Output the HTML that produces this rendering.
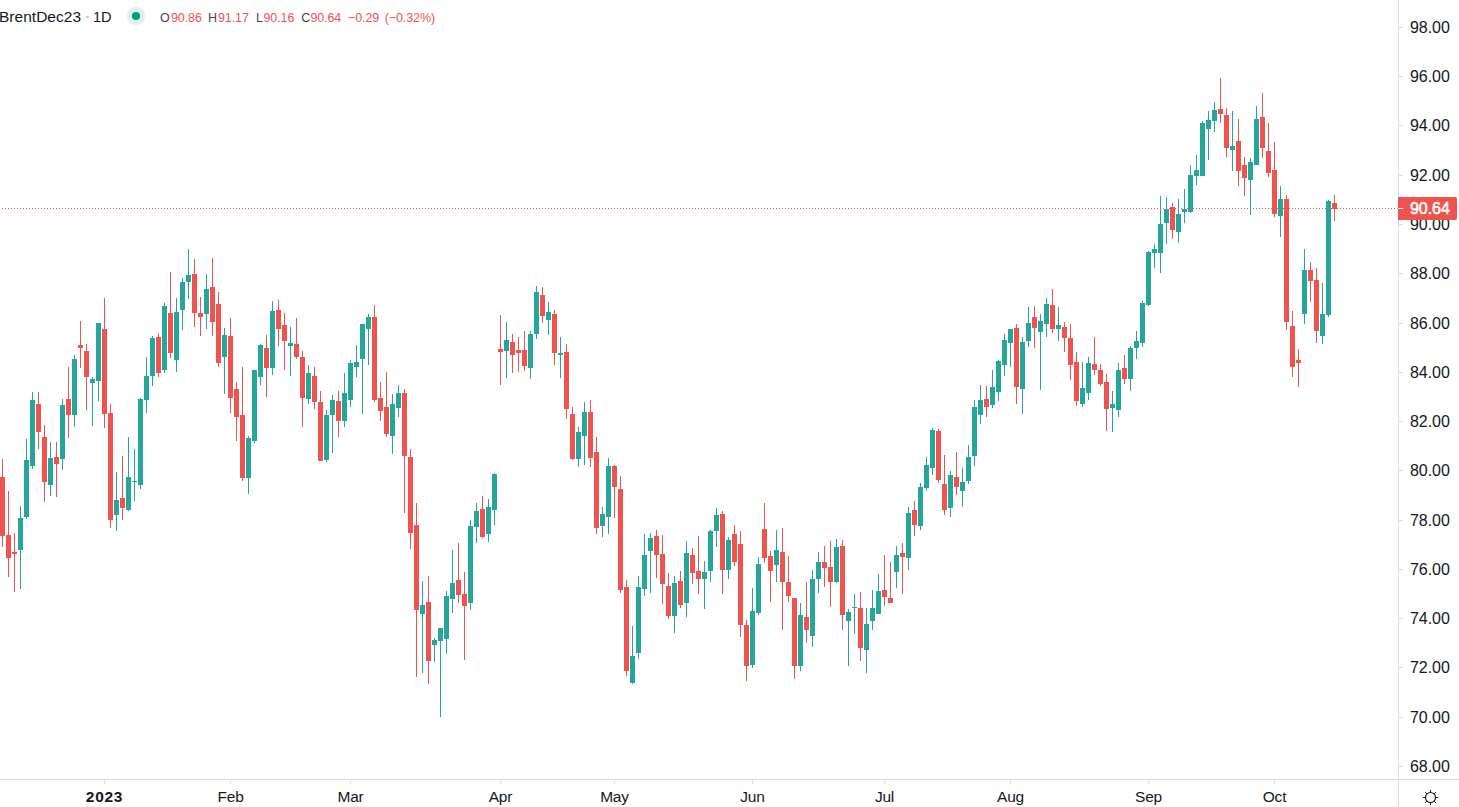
<!DOCTYPE html>
<html><head><meta charset="utf-8"><title>BrentDec23</title>
<style>
html,body{margin:0;padding:0;background:#fff;}
body{width:1459px;height:807px;position:relative;overflow:hidden;font-family:"Liberation Sans",sans-serif;color:#131722;}
svg{position:absolute;left:0;top:0;}
.yl{position:absolute;left:1410px;width:48px;height:20px;line-height:20px;font-size:16px;letter-spacing:-0.05px;white-space:nowrap;}
.xl{position:absolute;top:787px;width:81px;text-align:center;height:20px;line-height:20px;font-size:15.5px;letter-spacing:-0.2px;white-space:nowrap;}
.xl.b{font-weight:bold;font-size:15.5px;letter-spacing:0.7px;}
.hdr{position:absolute;white-space:nowrap;}
.t1{top:7px;font-size:15.5px;line-height:20px;letter-spacing:0.02px;}
.t2{top:9px;font-size:12.5px;line-height:18px;color:#ef5350;letter-spacing:-0.1px;}
.t2.gy{color:#434651;}
#plabel{position:absolute;left:1398px;top:197px;width:59px;height:23px;background:#ef5350;border-radius:0 2px 2px 0;color:#fff;font-size:16px;letter-spacing:-0.05px;line-height:23px;-webkit-text-stroke:0.55px #fff;}
#plabel span{position:absolute;left:12px;top:0;}
</style></head><body>
<svg width="1459" height="807" viewBox="0 0 1459 807" shape-rendering="crispEdges">
<path fill="#dcdee4" d="M1398 0h1v807h-1zM0 779h1459v1h-1459zM1399 766h4v1h-4zM1399 717h4v1h-4zM1399 667h4v1h-4zM1399 618h4v1h-4zM1399 569h4v1h-4zM1399 520h4v1h-4zM1399 470h4v1h-4zM1399 421h4v1h-4zM1399 372h4v1h-4zM1399 323h4v1h-4zM1399 273h4v1h-4zM1399 224h4v1h-4zM1399 175h4v1h-4zM1399 125h4v1h-4zM1399 76h4v1h-4zM1399 27h4v1h-4zM104 780h1v4h-1zM230 780h1v4h-1zM350 780h1v4h-1zM500 780h1v4h-1zM614 780h1v4h-1zM752 780h1v4h-1zM884 780h1v4h-1zM1010 780h1v4h-1zM1148 780h1v4h-1zM1274 780h1v4h-1z"/>
<path fill="#26a69a" d="M20 506h1v83h-1zM18 518h5v32h-5zM26 439h1v80h-1zM24 460h5v57h-5zM32 392h1v77h-1zM30 400h5v66h-5zM50 442h1v54h-1zM48 458h5v27h-5zM62 399h1v71h-1zM60 405h5v54h-5zM74 355h1v72h-1zM72 359h5v56h-5zM92 377h1v49h-1zM90 379h5v4h-5zM98 323h1v78h-1zM96 323h5v58h-5zM116 472h1v59h-1zM114 500h5v15h-5zM128 437h1v74h-1zM126 477h5v33h-5zM134 449h1v52h-1zM132 481h5v1h-5zM140 398h1v91h-1zM138 399h5v86h-5zM146 357h1v56h-1zM144 376h5v24h-5zM152 336h1v50h-1zM150 338h5v38h-5zM164 303h1v70h-1zM162 306h5v64h-5zM176 298h1v74h-1zM174 312h5v48h-5zM182 278h1v52h-1zM180 282h5v28h-5zM188 249h1v50h-1zM186 275h5v7h-5zM206 274h1v55h-1zM204 289h5v25h-5zM224 328h1v66h-1zM222 335h5v22h-5zM248 436h1v58h-1zM246 438h5v40h-5zM254 370h1v73h-1zM252 370h5v71h-5zM260 344h1v41h-1zM258 345h5v32h-5zM272 301h1v74h-1zM270 311h5v57h-5zM290 327h1v49h-1zM288 343h5v3h-5zM308 365h1v39h-1zM306 373h5v26h-5zM326 410h1v52h-1zM324 415h5v45h-5zM332 395h1v58h-1zM330 400h5v15h-5zM344 373h1v54h-1zM342 393h5v28h-5zM350 360h1v47h-1zM348 363h5v37h-5zM356 345h1v32h-1zM354 362h5v5h-5zM362 324h1v90h-1zM360 324h5v35h-5zM368 314h1v51h-1zM366 317h5v12h-5zM392 394h1v60h-1zM390 404h5v32h-5zM398 385h1v32h-1zM396 393h5v15h-5zM422 581h1v92h-1zM420 605h5v9h-5zM434 638h1v24h-1zM432 640h5v5h-5zM440 628h1v89h-1zM438 628h5v13h-5zM446 591h1v63h-1zM444 596h5v43h-5zM452 550h1v63h-1zM450 583h5v16h-5zM470 520h1v90h-1zM468 526h5v77h-5zM476 503h1v40h-1zM474 511h5v16h-5zM488 499h1v43h-1zM486 507h5v27h-5zM494 473h1v52h-1zM492 474h5v36h-5zM506 322h1v56h-1zM504 340h5v11h-5zM530 331h1v48h-1zM528 334h5v34h-5zM536 286h1v53h-1zM534 292h5v42h-5zM548 302h1v33h-1zM546 312h5v8h-5zM560 337h1v41h-1zM558 353h5v2h-5zM578 427h1v40h-1zM576 432h5v27h-5zM584 402h1v63h-1zM582 412h5v24h-5zM602 507h1v30h-1zM600 514h5v12h-5zM608 458h1v76h-1zM606 466h5v51h-5zM632 626h1v58h-1zM630 656h5v27h-5zM638 576h1v83h-1zM636 587h5v66h-5zM644 534h1v62h-1zM642 555h5v34h-5zM650 533h1v60h-1zM648 538h5v13h-5zM674 576h1v57h-1zM672 583h5v33h-5zM686 541h1v76h-1zM684 553h5v50h-5zM704 561h1v48h-1zM702 572h5v7h-5zM710 530h1v52h-1zM708 531h5v40h-5zM716 508h1v39h-1zM714 515h5v16h-5zM728 537h1v42h-1zM726 540h5v30h-5zM752 588h1v80h-1zM750 611h5v54h-5zM758 557h1v58h-1zM756 564h5v49h-5zM776 530h1v52h-1zM774 550h5v15h-5zM800 603h1v68h-1zM798 615h5v51h-5zM812 570h1v77h-1zM810 579h5v57h-5zM818 552h1v41h-1zM816 562h5v17h-5zM836 539h1v44h-1zM834 547h5v35h-5zM848 609h1v57h-1zM846 612h5v9h-5zM854 594h1v40h-1zM852 607h5v1h-5zM866 608h1v65h-1zM864 624h5v26h-5zM872 590h1v40h-1zM870 608h5v13h-5zM878 574h1v40h-1zM876 591h5v23h-5zM896 546h1v42h-1zM894 555h5v17h-5zM908 507h1v63h-1zM906 513h5v45h-5zM920 483h1v47h-1zM918 487h5v39h-5zM926 457h1v34h-1zM924 465h5v23h-5zM932 428h1v47h-1zM930 430h5v38h-5zM950 471h1v46h-1zM948 475h5v33h-5zM962 468h1v39h-1zM960 482h5v9h-5zM968 445h1v39h-1zM966 457h5v24h-5zM974 400h1v66h-1zM972 407h5v49h-5zM980 385h1v39h-1zM978 400h5v15h-5zM992 370h1v38h-1zM990 387h5v18h-5zM998 360h1v41h-1zM996 361h5v31h-5zM1004 334h1v42h-1zM1002 340h5v25h-5zM1010 329h1v38h-1zM1008 329h5v14h-5zM1022 337h1v77h-1zM1020 342h5v47h-5zM1028 307h1v40h-1zM1026 323h5v18h-5zM1040 314h1v76h-1zM1038 321h5v11h-5zM1046 298h1v39h-1zM1044 304h5v20h-5zM1058 307h1v34h-1zM1056 325h5v4h-5zM1082 362h1v45h-1zM1080 388h5v16h-5zM1088 357h1v43h-1zM1086 363h5v30h-5zM1112 391h1v41h-1zM1110 404h5v4h-5zM1118 363h1v54h-1zM1116 370h5v40h-5zM1130 346h1v45h-1zM1128 348h5v31h-5zM1136 331h1v28h-1zM1134 341h5v7h-5zM1142 301h1v46h-1zM1140 303h5v40h-5zM1148 251h1v55h-1zM1146 252h5v53h-5zM1154 244h1v24h-1zM1152 249h5v4h-5zM1160 196h1v77h-1zM1158 224h5v29h-5zM1166 197h1v47h-1zM1164 209h5v14h-5zM1178 199h1v44h-1zM1176 214h5v18h-5zM1184 189h1v34h-1zM1182 209h5v3h-5zM1190 165h1v48h-1zM1188 175h5v37h-5zM1196 155h1v30h-1zM1194 170h5v6h-5zM1202 121h1v55h-1zM1200 123h5v53h-5zM1208 111h1v49h-1zM1206 120h5v9h-5zM1214 102h1v30h-1zM1212 110h5v11h-5zM1232 111h1v60h-1zM1230 146h5v4h-5zM1250 158h1v57h-1zM1248 162h5v18h-5zM1256 106h1v59h-1zM1254 119h5v46h-5zM1280 186h1v51h-1zM1278 199h5v17h-5zM1304 249h1v75h-1zM1302 270h5v44h-5zM1322 283h1v61h-1zM1320 314h5v22h-5zM1328 200h1v117h-1zM1326 201h5v114h-5z"/>
<path fill="#ef5350" d="M2 459h1v88h-1zM0 477h5v59h-5zM8 491h1v86h-1zM6 535h5v23h-5zM14 533h1v59h-1zM12 552h5v2h-5zM38 392h1v57h-1zM36 404h5v28h-5zM44 425h1v77h-1zM42 437h5v45h-5zM56 442h1v55h-1zM54 457h5v7h-5zM68 367h1v71h-1zM66 399h5v16h-5zM80 321h1v47h-1zM78 345h5v3h-5zM86 344h1v66h-1zM84 351h5v26h-5zM104 298h1v130h-1zM102 329h5v85h-5zM110 404h1v124h-1zM108 413h5v107h-5zM122 456h1v64h-1zM120 498h5v10h-5zM158 333h1v44h-1zM156 337h5v36h-5zM170 272h1v86h-1zM168 313h5v40h-5zM194 259h1v68h-1zM192 274h5v39h-5zM200 297h1v39h-1zM198 313h5v4h-5zM212 258h1v78h-1zM210 287h5v35h-5zM218 292h1v75h-1zM216 304h5v59h-5zM230 318h1v95h-1zM228 336h5v62h-5zM236 382h1v59h-1zM234 389h5v28h-5zM242 367h1v114h-1zM240 415h5v63h-5zM266 335h1v62h-1zM264 348h5v20h-5zM278 300h1v46h-1zM276 310h5v19h-5zM284 313h1v57h-1zM282 325h5v16h-5zM296 318h1v41h-1zM294 344h5v13h-5zM302 351h1v76h-1zM300 357h5v41h-5zM314 367h1v42h-1zM312 376h5v26h-5zM320 391h1v70h-1zM318 402h5v59h-5zM338 391h1v46h-1zM336 401h5v20h-5zM374 305h1v97h-1zM372 317h5v83h-5zM380 382h1v39h-1zM378 398h5v13h-5zM386 372h1v65h-1zM384 407h5v27h-5zM404 389h1v124h-1zM402 393h5v63h-5zM410 449h1v100h-1zM408 457h5v76h-5zM416 503h1v174h-1zM414 525h5v85h-5zM428 576h1v108h-1zM426 602h5v59h-5zM458 543h1v60h-1zM456 580h5v15h-5zM464 572h1v88h-1zM462 594h5v12h-5zM482 496h1v42h-1zM480 509h5v28h-5zM500 315h1v70h-1zM498 349h5v3h-5zM512 334h1v39h-1zM510 342h5v13h-5zM518 337h1v35h-1zM516 350h5v3h-5zM524 331h1v40h-1zM522 350h5v16h-5zM542 287h1v36h-1zM540 295h5v21h-5zM554 310h1v55h-1zM552 314h5v39h-5zM566 344h1v75h-1zM564 352h5v57h-5zM572 407h1v53h-1zM570 414h5v45h-5zM590 400h1v67h-1zM588 412h5v46h-5zM596 437h1v97h-1zM594 452h5v76h-5zM614 465h1v53h-1zM612 466h5v21h-5zM620 476h1v117h-1zM618 489h5v101h-5zM626 580h1v96h-1zM624 587h5v84h-5zM656 530h1v48h-1zM654 536h5v19h-5zM662 535h1v69h-1zM660 554h5v30h-5zM668 573h1v46h-1zM666 586h5v30h-5zM680 571h1v37h-1zM678 581h5v24h-5zM692 548h1v36h-1zM690 555h5v18h-5zM698 536h1v58h-1zM696 571h5v8h-5zM722 511h1v83h-1zM720 514h5v56h-5zM734 525h1v41h-1zM732 534h5v28h-5zM740 531h1v106h-1zM738 544h5v81h-5zM746 620h1v61h-1zM744 625h5v41h-5zM764 503h1v60h-1zM762 529h5v29h-5zM770 551h1v51h-1zM768 556h5v15h-5zM782 528h1v102h-1zM780 552h5v30h-5zM788 556h1v46h-1zM786 582h5v14h-5zM794 598h1v81h-1zM792 598h5v68h-5zM806 582h1v61h-1zM804 617h5v13h-5zM824 546h1v41h-1zM822 562h5v6h-5zM830 541h1v66h-1zM828 567h5v15h-5zM842 540h1v90h-1zM840 546h5v69h-5zM860 592h1v69h-1zM858 608h5v40h-5zM884 555h1v51h-1zM882 590h5v7h-5zM890 562h1v41h-1zM888 598h5v5h-5zM902 543h1v51h-1zM900 553h5v4h-5zM914 501h1v35h-1zM912 510h5v15h-5zM938 429h1v54h-1zM936 431h5v49h-5zM944 455h1v60h-1zM942 484h5v26h-5zM956 452h1v43h-1zM954 477h5v10h-5zM986 386h1v31h-1zM984 399h5v8h-5zM1016 324h1v80h-1zM1014 328h5v59h-5zM1034 306h1v42h-1zM1032 317h5v11h-5zM1052 289h1v44h-1zM1050 305h5v24h-5zM1064 322h1v30h-1zM1062 327h5v11h-5zM1070 324h1v56h-1zM1068 338h5v27h-5zM1076 352h1v54h-1zM1074 362h5v39h-5zM1094 337h1v38h-1zM1092 364h5v6h-5zM1100 364h1v22h-1zM1098 370h5v14h-5zM1106 374h1v57h-1zM1104 382h5v27h-5zM1124 355h1v29h-1zM1122 368h5v11h-5zM1172 203h1v36h-1zM1170 207h5v23h-5zM1220 78h1v45h-1zM1218 109h5v5h-5zM1226 108h1v49h-1zM1224 115h5v33h-5zM1238 119h1v67h-1zM1236 141h5v30h-5zM1244 157h1v39h-1zM1242 165h5v13h-5zM1262 93h1v65h-1zM1260 117h5v31h-5zM1268 123h1v54h-1zM1266 151h5v22h-5zM1274 142h1v75h-1zM1272 170h5v44h-5zM1286 195h1v135h-1zM1284 199h5v123h-5zM1292 311h1v66h-1zM1290 326h5v41h-5zM1298 349h1v38h-1zM1296 360h5v3h-5zM1310 262h1v40h-1zM1308 270h5v11h-5zM1316 268h1v75h-1zM1314 280h5v51h-5zM1334 195h1v26h-1zM1332 203h5v6h-5z"/>
<path fill="#ef5350" d="M2 208h1v1h-1zM5 208h1v1h-1zM8 208h1v1h-1zM11 208h1v1h-1zM14 208h1v1h-1zM17 208h1v1h-1zM20 208h1v1h-1zM23 208h1v1h-1zM26 208h1v1h-1zM29 208h1v1h-1zM32 208h1v1h-1zM35 208h1v1h-1zM38 208h1v1h-1zM41 208h1v1h-1zM44 208h1v1h-1zM47 208h1v1h-1zM50 208h1v1h-1zM53 208h1v1h-1zM56 208h1v1h-1zM59 208h1v1h-1zM62 208h1v1h-1zM65 208h1v1h-1zM68 208h1v1h-1zM71 208h1v1h-1zM74 208h1v1h-1zM77 208h1v1h-1zM80 208h1v1h-1zM83 208h1v1h-1zM86 208h1v1h-1zM89 208h1v1h-1zM92 208h1v1h-1zM95 208h1v1h-1zM98 208h1v1h-1zM101 208h1v1h-1zM104 208h1v1h-1zM107 208h1v1h-1zM110 208h1v1h-1zM113 208h1v1h-1zM116 208h1v1h-1zM119 208h1v1h-1zM122 208h1v1h-1zM125 208h1v1h-1zM128 208h1v1h-1zM131 208h1v1h-1zM134 208h1v1h-1zM137 208h1v1h-1zM140 208h1v1h-1zM143 208h1v1h-1zM146 208h1v1h-1zM149 208h1v1h-1zM152 208h1v1h-1zM155 208h1v1h-1zM158 208h1v1h-1zM161 208h1v1h-1zM164 208h1v1h-1zM167 208h1v1h-1zM170 208h1v1h-1zM173 208h1v1h-1zM176 208h1v1h-1zM179 208h1v1h-1zM182 208h1v1h-1zM185 208h1v1h-1zM188 208h1v1h-1zM191 208h1v1h-1zM194 208h1v1h-1zM197 208h1v1h-1zM200 208h1v1h-1zM203 208h1v1h-1zM206 208h1v1h-1zM209 208h1v1h-1zM212 208h1v1h-1zM215 208h1v1h-1zM218 208h1v1h-1zM221 208h1v1h-1zM224 208h1v1h-1zM227 208h1v1h-1zM230 208h1v1h-1zM233 208h1v1h-1zM236 208h1v1h-1zM239 208h1v1h-1zM242 208h1v1h-1zM245 208h1v1h-1zM248 208h1v1h-1zM251 208h1v1h-1zM254 208h1v1h-1zM257 208h1v1h-1zM260 208h1v1h-1zM263 208h1v1h-1zM266 208h1v1h-1zM269 208h1v1h-1zM272 208h1v1h-1zM275 208h1v1h-1zM278 208h1v1h-1zM281 208h1v1h-1zM284 208h1v1h-1zM287 208h1v1h-1zM290 208h1v1h-1zM293 208h1v1h-1zM296 208h1v1h-1zM299 208h1v1h-1zM302 208h1v1h-1zM305 208h1v1h-1zM308 208h1v1h-1zM311 208h1v1h-1zM314 208h1v1h-1zM317 208h1v1h-1zM320 208h1v1h-1zM323 208h1v1h-1zM326 208h1v1h-1zM329 208h1v1h-1zM332 208h1v1h-1zM335 208h1v1h-1zM338 208h1v1h-1zM341 208h1v1h-1zM344 208h1v1h-1zM347 208h1v1h-1zM350 208h1v1h-1zM353 208h1v1h-1zM356 208h1v1h-1zM359 208h1v1h-1zM362 208h1v1h-1zM365 208h1v1h-1zM368 208h1v1h-1zM371 208h1v1h-1zM374 208h1v1h-1zM377 208h1v1h-1zM380 208h1v1h-1zM383 208h1v1h-1zM386 208h1v1h-1zM389 208h1v1h-1zM392 208h1v1h-1zM395 208h1v1h-1zM398 208h1v1h-1zM401 208h1v1h-1zM404 208h1v1h-1zM407 208h1v1h-1zM410 208h1v1h-1zM413 208h1v1h-1zM416 208h1v1h-1zM419 208h1v1h-1zM422 208h1v1h-1zM425 208h1v1h-1zM428 208h1v1h-1zM431 208h1v1h-1zM434 208h1v1h-1zM437 208h1v1h-1zM440 208h1v1h-1zM443 208h1v1h-1zM446 208h1v1h-1zM449 208h1v1h-1zM452 208h1v1h-1zM455 208h1v1h-1zM458 208h1v1h-1zM461 208h1v1h-1zM464 208h1v1h-1zM467 208h1v1h-1zM470 208h1v1h-1zM473 208h1v1h-1zM476 208h1v1h-1zM479 208h1v1h-1zM482 208h1v1h-1zM485 208h1v1h-1zM488 208h1v1h-1zM491 208h1v1h-1zM494 208h1v1h-1zM497 208h1v1h-1zM500 208h1v1h-1zM503 208h1v1h-1zM506 208h1v1h-1zM509 208h1v1h-1zM512 208h1v1h-1zM515 208h1v1h-1zM518 208h1v1h-1zM521 208h1v1h-1zM524 208h1v1h-1zM527 208h1v1h-1zM530 208h1v1h-1zM533 208h1v1h-1zM536 208h1v1h-1zM539 208h1v1h-1zM542 208h1v1h-1zM545 208h1v1h-1zM548 208h1v1h-1zM551 208h1v1h-1zM554 208h1v1h-1zM557 208h1v1h-1zM560 208h1v1h-1zM563 208h1v1h-1zM566 208h1v1h-1zM569 208h1v1h-1zM572 208h1v1h-1zM575 208h1v1h-1zM578 208h1v1h-1zM581 208h1v1h-1zM584 208h1v1h-1zM587 208h1v1h-1zM590 208h1v1h-1zM593 208h1v1h-1zM596 208h1v1h-1zM599 208h1v1h-1zM602 208h1v1h-1zM605 208h1v1h-1zM608 208h1v1h-1zM611 208h1v1h-1zM614 208h1v1h-1zM617 208h1v1h-1zM620 208h1v1h-1zM623 208h1v1h-1zM626 208h1v1h-1zM629 208h1v1h-1zM632 208h1v1h-1zM635 208h1v1h-1zM638 208h1v1h-1zM641 208h1v1h-1zM644 208h1v1h-1zM647 208h1v1h-1zM650 208h1v1h-1zM653 208h1v1h-1zM656 208h1v1h-1zM659 208h1v1h-1zM662 208h1v1h-1zM665 208h1v1h-1zM668 208h1v1h-1zM671 208h1v1h-1zM674 208h1v1h-1zM677 208h1v1h-1zM680 208h1v1h-1zM683 208h1v1h-1zM686 208h1v1h-1zM689 208h1v1h-1zM692 208h1v1h-1zM695 208h1v1h-1zM698 208h1v1h-1zM701 208h1v1h-1zM704 208h1v1h-1zM707 208h1v1h-1zM710 208h1v1h-1zM713 208h1v1h-1zM716 208h1v1h-1zM719 208h1v1h-1zM722 208h1v1h-1zM725 208h1v1h-1zM728 208h1v1h-1zM731 208h1v1h-1zM734 208h1v1h-1zM737 208h1v1h-1zM740 208h1v1h-1zM743 208h1v1h-1zM746 208h1v1h-1zM749 208h1v1h-1zM752 208h1v1h-1zM755 208h1v1h-1zM758 208h1v1h-1zM761 208h1v1h-1zM764 208h1v1h-1zM767 208h1v1h-1zM770 208h1v1h-1zM773 208h1v1h-1zM776 208h1v1h-1zM779 208h1v1h-1zM782 208h1v1h-1zM785 208h1v1h-1zM788 208h1v1h-1zM791 208h1v1h-1zM794 208h1v1h-1zM797 208h1v1h-1zM800 208h1v1h-1zM803 208h1v1h-1zM806 208h1v1h-1zM809 208h1v1h-1zM812 208h1v1h-1zM815 208h1v1h-1zM818 208h1v1h-1zM821 208h1v1h-1zM824 208h1v1h-1zM827 208h1v1h-1zM830 208h1v1h-1zM833 208h1v1h-1zM836 208h1v1h-1zM839 208h1v1h-1zM842 208h1v1h-1zM845 208h1v1h-1zM848 208h1v1h-1zM851 208h1v1h-1zM854 208h1v1h-1zM857 208h1v1h-1zM860 208h1v1h-1zM863 208h1v1h-1zM866 208h1v1h-1zM869 208h1v1h-1zM872 208h1v1h-1zM875 208h1v1h-1zM878 208h1v1h-1zM881 208h1v1h-1zM884 208h1v1h-1zM887 208h1v1h-1zM890 208h1v1h-1zM893 208h1v1h-1zM896 208h1v1h-1zM899 208h1v1h-1zM902 208h1v1h-1zM905 208h1v1h-1zM908 208h1v1h-1zM911 208h1v1h-1zM914 208h1v1h-1zM917 208h1v1h-1zM920 208h1v1h-1zM923 208h1v1h-1zM926 208h1v1h-1zM929 208h1v1h-1zM932 208h1v1h-1zM935 208h1v1h-1zM938 208h1v1h-1zM941 208h1v1h-1zM944 208h1v1h-1zM947 208h1v1h-1zM950 208h1v1h-1zM953 208h1v1h-1zM956 208h1v1h-1zM959 208h1v1h-1zM962 208h1v1h-1zM965 208h1v1h-1zM968 208h1v1h-1zM971 208h1v1h-1zM974 208h1v1h-1zM977 208h1v1h-1zM980 208h1v1h-1zM983 208h1v1h-1zM986 208h1v1h-1zM989 208h1v1h-1zM992 208h1v1h-1zM995 208h1v1h-1zM998 208h1v1h-1zM1001 208h1v1h-1zM1004 208h1v1h-1zM1007 208h1v1h-1zM1010 208h1v1h-1zM1013 208h1v1h-1zM1016 208h1v1h-1zM1019 208h1v1h-1zM1022 208h1v1h-1zM1025 208h1v1h-1zM1028 208h1v1h-1zM1031 208h1v1h-1zM1034 208h1v1h-1zM1037 208h1v1h-1zM1040 208h1v1h-1zM1043 208h1v1h-1zM1046 208h1v1h-1zM1049 208h1v1h-1zM1052 208h1v1h-1zM1055 208h1v1h-1zM1058 208h1v1h-1zM1061 208h1v1h-1zM1064 208h1v1h-1zM1067 208h1v1h-1zM1070 208h1v1h-1zM1073 208h1v1h-1zM1076 208h1v1h-1zM1079 208h1v1h-1zM1082 208h1v1h-1zM1085 208h1v1h-1zM1088 208h1v1h-1zM1091 208h1v1h-1zM1094 208h1v1h-1zM1097 208h1v1h-1zM1100 208h1v1h-1zM1103 208h1v1h-1zM1106 208h1v1h-1zM1109 208h1v1h-1zM1112 208h1v1h-1zM1115 208h1v1h-1zM1118 208h1v1h-1zM1121 208h1v1h-1zM1124 208h1v1h-1zM1127 208h1v1h-1zM1130 208h1v1h-1zM1133 208h1v1h-1zM1136 208h1v1h-1zM1139 208h1v1h-1zM1142 208h1v1h-1zM1145 208h1v1h-1zM1148 208h1v1h-1zM1151 208h1v1h-1zM1154 208h1v1h-1zM1157 208h1v1h-1zM1160 208h1v1h-1zM1163 208h1v1h-1zM1166 208h1v1h-1zM1169 208h1v1h-1zM1172 208h1v1h-1zM1175 208h1v1h-1zM1178 208h1v1h-1zM1181 208h1v1h-1zM1184 208h1v1h-1zM1187 208h1v1h-1zM1190 208h1v1h-1zM1193 208h1v1h-1zM1196 208h1v1h-1zM1199 208h1v1h-1zM1202 208h1v1h-1zM1205 208h1v1h-1zM1208 208h1v1h-1zM1211 208h1v1h-1zM1214 208h1v1h-1zM1217 208h1v1h-1zM1220 208h1v1h-1zM1223 208h1v1h-1zM1226 208h1v1h-1zM1229 208h1v1h-1zM1232 208h1v1h-1zM1235 208h1v1h-1zM1238 208h1v1h-1zM1241 208h1v1h-1zM1244 208h1v1h-1zM1247 208h1v1h-1zM1250 208h1v1h-1zM1253 208h1v1h-1zM1256 208h1v1h-1zM1259 208h1v1h-1zM1262 208h1v1h-1zM1265 208h1v1h-1zM1268 208h1v1h-1zM1271 208h1v1h-1zM1274 208h1v1h-1zM1277 208h1v1h-1zM1280 208h1v1h-1zM1283 208h1v1h-1zM1286 208h1v1h-1zM1289 208h1v1h-1zM1292 208h1v1h-1zM1295 208h1v1h-1zM1298 208h1v1h-1zM1301 208h1v1h-1zM1304 208h1v1h-1zM1307 208h1v1h-1zM1310 208h1v1h-1zM1313 208h1v1h-1zM1316 208h1v1h-1zM1319 208h1v1h-1zM1322 208h1v1h-1zM1325 208h1v1h-1zM1328 208h1v1h-1zM1331 208h1v1h-1zM1334 208h1v1h-1zM1337 208h1v1h-1zM1340 208h1v1h-1zM1343 208h1v1h-1zM1346 208h1v1h-1zM1349 208h1v1h-1zM1352 208h1v1h-1zM1355 208h1v1h-1zM1358 208h1v1h-1zM1361 208h1v1h-1zM1364 208h1v1h-1zM1367 208h1v1h-1zM1370 208h1v1h-1zM1373 208h1v1h-1zM1376 208h1v1h-1zM1379 208h1v1h-1zM1382 208h1v1h-1zM1385 208h1v1h-1zM1388 208h1v1h-1zM1391 208h1v1h-1zM1394 208h1v1h-1zM1397 208h1v1h-1z"/>
</svg>
<div class="yl" style="top:757px">68.00</div>
<div class="yl" style="top:708px">70.00</div>
<div class="yl" style="top:658px">72.00</div>
<div class="yl" style="top:609px">74.00</div>
<div class="yl" style="top:560px">76.00</div>
<div class="yl" style="top:511px">78.00</div>
<div class="yl" style="top:461px">80.00</div>
<div class="yl" style="top:412px">82.00</div>
<div class="yl" style="top:363px">84.00</div>
<div class="yl" style="top:314px">86.00</div>
<div class="yl" style="top:264px">88.00</div>
<div class="yl" style="top:215px">90.00</div>
<div class="yl" style="top:166px">92.00</div>
<div class="yl" style="top:116px">94.00</div>
<div class="yl" style="top:67px">96.00</div>
<div class="yl" style="top:18px">98.00</div>

<div class="xl b" style="left:64px">2023</div>
<div class="xl" style="left:190px">Feb</div>
<div class="xl" style="left:310px">Mar</div>
<div class="xl" style="left:460px">Apr</div>
<div class="xl" style="left:574px">May</div>
<div class="xl" style="left:712px">Jun</div>
<div class="xl" style="left:844px">Jul</div>
<div class="xl" style="left:970px">Aug</div>
<div class="xl" style="left:1108px">Sep</div>
<div class="xl" style="left:1234px">Oct</div>

<div class="hdr t1" style="left:-1px">BrentDec23</div><div style="position:absolute;left:86px;top:16px;width:3px;height:2px;background:#c8cbd5"></div><div class="hdr t1" style="left:93px;transform:scaleX(0.94);transform-origin:0 0">1D</div>
<svg width="24" height="24" style="left:124px;top:4px" viewBox="0 0 24 24"><circle cx="12" cy="12" r="9" fill="#ddf1ef"/><circle cx="12" cy="12" r="4.05" fill="#089981"/></svg>
<div class="hdr t2 gy" style="left:160px">O</div><div class="hdr t2" style="left:171px">90.86</div><div class="hdr t2 gy" style="left:208px">H</div><div class="hdr t2" style="left:218px">91.17</div><div class="hdr t2 gy" style="left:256px">L</div><div class="hdr t2" style="left:263.5px">90.16</div><div class="hdr t2 gy" style="left:301.3px">C</div><div class="hdr t2" style="left:310.4px">90.64</div><div class="hdr t2" style="left:348px">−0.29</div><div class="hdr t2" style="left:384.7px">(−0.32%)</div>
<div id="plabel"><span>90.64</span></div>
<svg width="20" height="20" style="left:1420px;top:787px" viewBox="-10 -10 20 20" fill="none" stroke="#131722" stroke-width="1" stroke-linecap="round"><g transform="translate(0.5 0.5)">
<circle cx="0" cy="0" r="5" stroke-width="1.15"/>
<path d="M0 -5.5V-7.2M0 5.5V7.2M-5.5 0H-7.2M5.5 0H7.2M3.9 -3.9L5.1 -5.1M-3.9 -3.9L-5.1 -5.1M3.9 3.9L5.1 5.1M-3.9 3.9L-5.1 5.1"/>
</g></svg>
<svg width="8" height="3" style="left:1398px;top:207px" viewBox="0 0 8 3" shape-rendering="crispEdges"><rect x="0" y="1" width="5" height="1" fill="#fff"/></svg>
</body></html>
